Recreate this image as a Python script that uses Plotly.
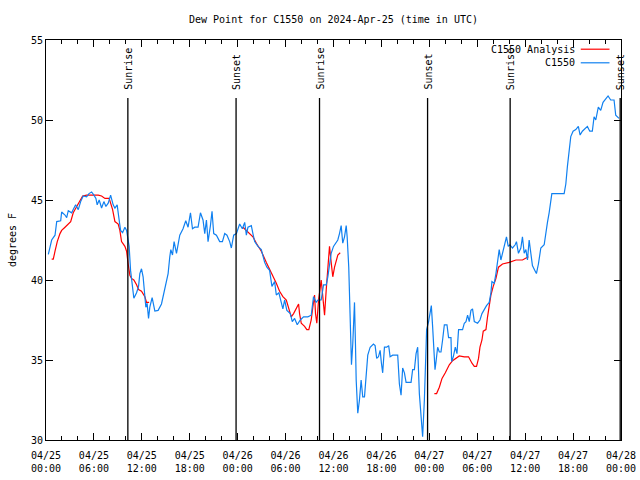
import pandas as pd
import plotly.graph_objects as go

# hours after 2024-04-25 00:00 UTC
obs_hours = [0.29,0.5,0.71,1.13,1.34,1.84,1.96,2.38,2.59,2.79,3.21,3.41,3.71,4.04,4.34,4.66,5.09,5.38,5.71,6.0,
             6.25,6.41,6.66,6.96,7.25,7.5,7.79,8.09,8.41,8.63,8.91,9.16,9.34,9.59,9.88,10.09,10.21,10.41,10.59,10.75,
             11.0,11.34,11.59,11.75,11.96,12.16,12.38,12.5,12.66,12.84,13.0,13.29,13.63,14.04,14.46,14.88,15.29,15.5,15.63,15.84,
             16.04,16.34,16.54,16.75,17.16,17.5,17.79,18.09,18.34,18.63,19.04,19.34,19.66,19.88,20.09,20.29,20.59,20.79,21.0,21.34,
             21.75,22.09,22.38,22.66,23.0,23.21,23.5,23.84,24.25,24.59,24.88,25.09,25.29,25.71,25.91,26.13,26.54,26.96,27.38,27.66,
             28.0,28.29,28.63,28.84,29.16,29.34,29.66,29.88,30.16,30.59,30.84,31.13,31.46,31.84,32.25,32.79,33.21,33.5,33.84,34.04,
             34.46,34.75,35.09,35.29,35.5,35.71,36.0,36.25,36.54,36.75,36.96,37.16,37.38,37.59,37.71,37.91,38.0,38.13,38.25,38.41,
             38.63,38.75,38.84,39.04,39.25,39.46,39.66,39.88,40.09,40.29,40.59,41.0,41.21,41.41,41.63,41.84,42.0,42.16,42.38,42.66,
             42.91,43.09,43.41,44.04,44.25,44.46,44.66,44.88,45.09,45.71,45.91,46.13,46.34,46.54,46.75,46.96,47.16,47.38,47.5,47.66,
             47.91,48.13,48.25,48.41,48.54,48.71,48.84,49.04,49.25,49.46,49.66,49.88,50.21,50.41,50.71,50.79,51.0,51.25,51.46,51.66,
             52.16,52.38,52.59,52.79,53.0,53.21,53.41,53.63,54.04,54.34,54.59,54.88,55.16,55.5,55.71,55.84,56.13,56.34,56.54,56.75,
             56.96,57.25,57.5,57.66,57.88,58.09,58.41,58.75,58.91,59.16,59.46,59.66,59.88,60.09,60.29,60.5,60.71,60.91,61.21,61.41,
             61.66,61.96,62.38,62.59,62.79,63.0,63.21,63.34,64.88,65.09,65.29,65.5,65.71,66.0,66.34,66.66,66.88,67.16,67.5,67.79,
             68.09,68.41,68.63,68.84,69.16,69.46,69.75,70.09,70.38,70.71,71.13,71.34,71.54,71.75]
obs_values = [41.6,42.1,42.5,42.8,43.65,43.7,44.25,44.06,43.9,44.33,44.2,44.4,44.7,44.4,44.9,45.25,45.2,45.4,45.5,45.3,
              45.1,44.7,45.0,44.5,44.9,44.6,44.8,45.3,44.7,44.5,44.7,43.75,43.1,42.96,43.3,43.1,42.6,42.1,40.6,40.0,
              38.86,39.2,39.6,40.4,40.7,40.2,39.2,38.3,38.55,37.6,38.3,38.9,38.06,38.1,38.5,39.4,40.4,41.45,41.9,41.56,
              42.4,41.67,42.3,42.8,43.2,43.7,43.3,44.2,43.2,43.3,43.3,44.2,43.75,42.9,43.75,42.4,43.4,44.3,42.9,42.8,
              42.4,42.4,42.9,42.8,42.4,42.0,42.8,42.9,43.5,43.2,43.6,42.8,43.3,43.4,42.9,42.4,42.1,41.9,41.1,40.8,
              40.6,39.6,39.9,39.06,39.2,38.86,38.2,38.75,38.1,37.9,37.4,37.6,37.2,37.5,37.7,37.7,37.8,38.96,38.6,38.75,
              38.75,39.7,39.7,40.2,41.0,41.67,42.1,42.3,42.5,42.9,43.4,42.3,42.7,43.4,42.7,40.8,38.75,36.0,34.7,36.0,
              38.6,36.0,33.75,31.67,32.5,33.75,32.7,32.7,33.96,35.3,35.8,36.0,35.9,35.1,35.2,35.6,34.8,34.2,35.8,35.8,
              35.9,35.2,35.3,35.3,33.5,32.8,34.5,34.2,33.6,33.6,34.4,34.4,35.4,35.8,32.9,31.46,30.2,32.5,35.2,36.9,
              37.4,38.0,38.4,37.1,36.1,34.4,34.9,35.8,35.5,35.5,36.25,37.2,37.2,36.4,36.4,34.9,35.2,35.8,35.4,36.9,
              36.9,37.3,37.4,37.8,37.4,38.1,38.2,37.4,37.3,37.5,37.9,38.2,38.4,38.6,39.2,39.9,39.8,40.4,41.0,41.9,
              41.25,41.9,42.5,42.7,42.1,42.2,42.0,42.2,42.4,41.67,42.0,42.7,41.67,41.9,41.25,42.5,41.67,40.9,40.6,40.4,
              41.0,42.0,42.2,43.1,43.6,44.2,45.0,45.4,45.4,46.0,47.1,48.1,48.96,49.3,49.4,49.6,49.06,49.3,49.5,49.6,
              49.3,49.3,50.2,50.0,50.8,50.6,51.1,51.35,51.5,51.25,51.25,50.3,50.2,50.1]

ana_hours = [0.71,0.91,1.13,1.41,1.75,1.96,2.38,2.79,3.09,3.41,3.84,4.25,4.59,5.09,5.71,6.54,6.96,7.38,7.91,8.09,
             8.34,8.63,9.04,9.25,9.46,9.88,10.09,10.29,10.5,10.71,11.0,11.34,11.59,11.96,12.38,12.59,12.91,None,
             24.66,25.29,25.91,26.34,26.96,27.59,28.21,28.84,29.25,29.66,30.09,30.41,30.71,31.0,31.34,31.63,31.75,31.96,32.38,32.66,
             32.91,33.21,33.41,33.63,33.75,33.91,34.13,34.46,34.66,34.88,35.09,35.34,35.5,35.71,35.91,36.13,36.34,36.54,36.84,None,
             48.63,48.91,49.25,49.59,50.0,50.5,50.91,51.34,51.75,52.38,52.91,53.34,53.63,53.91,54.16,54.34,54.59,54.75,55.09,55.29,
             55.5,55.71,56.0,56.34,56.66,57.16,58.0,58.84,59.66,60.09,60.41]
ana_values = [41.3,41.3,41.8,42.4,42.9,43.1,43.3,43.5,43.65,44.2,44.6,44.9,45.25,45.3,45.3,45.3,45.25,45.1,45.1,44.8,
              44.4,43.65,43.5,43.1,42.4,42.1,41.8,41.0,40.3,40.1,40.0,39.7,39.4,39.3,38.96,38.6,38.6,None,
              43.3,43.0,42.7,42.3,41.8,41.1,40.5,39.8,39.3,38.96,38.75,38.2,37.7,37.9,38.2,38.5,37.9,37.3,37.1,36.9,
              36.9,37.5,38.3,39.06,37.9,37.3,38.75,40.0,38.96,37.8,39.4,40.8,42.1,41.1,40.2,40.8,41.25,41.56,41.7,None,
              32.9,32.9,33.3,33.85,34.2,34.7,34.96,35.1,35.25,35.2,35.2,34.8,34.6,34.6,35.1,35.8,36.25,36.8,36.9,37.7,
              38.4,39.06,39.6,40.1,40.8,41.0,41.1,41.25,41.25,41.35,41.45]

sun_labels = ["Sunrise", "Sunset", "Sunrise", "Sunset", "Sunrise", "Sunset"]
sun_hours = [10.25, 23.8, 34.25, 47.78, 58.12, 71.9]

base = pd.Timestamp("2024-04-25 00:00")
def to_time(h):
    return None if h is None else base + pd.Timedelta(hours=h)

obs_x = [to_time(h) for h in obs_hours]
ana_x = [to_time(h) for h in ana_hours]
sun_x = [to_time(h) for h in sun_hours]

BLUE = "#1080f0"
RED = "#ff0000"
FONT = "DejaVu Sans Mono"
FS = 10

fig = go.Figure()
fig.add_trace(go.Scatter(x=ana_x, y=ana_values, mode="lines", name="C1550 Analysis",
                         line=dict(color=RED, width=1.2), connectgaps=False))
fig.add_trace(go.Scatter(x=obs_x, y=obs_values, mode="lines", name="C1550",
                         line=dict(color=BLUE, width=1.2)))

shapes = []
annotations = []
for lab, t in zip(sun_labels, sun_x):
    shapes.append(dict(type="line", xref="x", yref="paper", x0=t, x1=t, y0=0, y1=0.855,
                       line=dict(color="black", width=1.3)))
    annotations.append(dict(x=t, y=0.87, xref="x", yref="paper", text=lab, textangle=-90,
                            showarrow=False, xanchor="center", yanchor="bottom",
                            font=dict(family=FONT, size=FS, color="black")))

# gnuplot-style key (text then sample line)
key = [("C1550 Analysis", RED, 0.977), ("C1550", BLUE, 0.943)]
for txt, col, ky in key:
    annotations.append(dict(x=0.923, y=ky, xref="paper", yref="paper", text=txt, showarrow=False,
                            xanchor="right", yanchor="middle",
                            font=dict(family=FONT, size=FS, color="black")))
    shapes.append(dict(type="line", xref="paper", yref="paper", x0=0.93, x1=0.98, y0=ky, y1=ky,
                       line=dict(color=col, width=1.2)))

fig.update_layout(
    width=640, height=480,
    margin=dict(l=46, r=19, t=40, b=40, autoexpand=False),
    paper_bgcolor="white", plot_bgcolor="white",
    showlegend=False,
    title=dict(text="Dew Point for C1550 on 2024-Apr-25 (time in UTC)", x=0.5, xref="paper",
               y=1 - 19 / 480, yref="container", yanchor="middle",
               font=dict(family=FONT, size=FS, color="black")),
    font=dict(family=FONT, size=FS, color="black"),
    shapes=shapes, annotations=annotations,
)
fig.update_xaxes(
    type="date",
    range=[base, base + pd.Timedelta(hours=72)],
    dtick=6 * 3600 * 1000, tick0=base,
    tickformat="%m/%d<br>%H:%M",
    ticks="inside", ticklen=7, tickcolor="black", tickwidth=1,
    ticklabelstandoff=6,
    minor=dict(dtick=2 * 3600 * 1000, ticks="inside", ticklen=4, tickcolor="black"),
    showline=True, linecolor="black", linewidth=1, mirror="allticks",
    showgrid=False, zeroline=False, automargin=False,
)
fig.update_yaxes(
    range=[30, 55], dtick=5, tick0=30,
    ticks="inside", ticklen=7, tickcolor="black", tickwidth=1,
    showline=True, linecolor="black", linewidth=1, mirror="allticks",
    showgrid=False, zeroline=False, automargin=False,
    title=dict(text="degrees F", standoff=12, font=dict(family=FONT, size=FS)),
)

fig.write_html("out.html", config={"displayModeBar": False},
               post_script="document.body.style.margin='0';document.body.style.overflow='hidden';")
